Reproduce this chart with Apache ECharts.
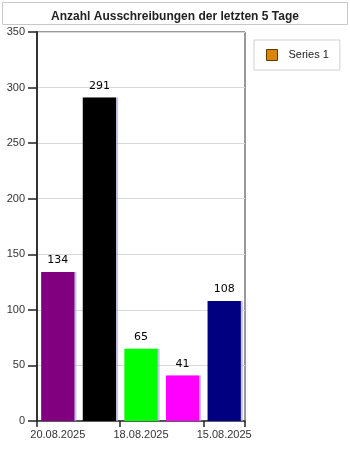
<!DOCTYPE html>
<html><head><meta charset="utf-8">
<script src="https://cdn.jsdelivr.net/npm/echarts@6/dist/echarts.min.js"></script>
<style>html,body{margin:0;padding:0;background:#fff}#c{width:350px;height:450px}</style>
</head><body><div id="c"></div>
<script>
var categories = ['20.08.2025','19.08.2025','18.08.2025','17.08.2025','15.08.2025'];
var values = [134, 291, 65, 41, 108];
var barColors = ['#800080','#000000','#00ff00','#ff00ff','#000080'];
var seriesName = 'Series 1';
var titleText = 'Anzahl Ausschreibungen der letzten 5 Tage';

var chart = echarts.init(document.getElementById('c'), null, {renderer:'canvas'});
chart.setOption({
  animation:false,
  backgroundColor:'#fff',
  graphic:[{type:'rect', shape:{x:2.5,y:2.5,width:345,height:22}, style:{fill:'#fff', stroke:'#c8c8c8', lineWidth:1}, z:-1}],
  title:{text:titleText, left:'center', top:6, textStyle:{fontFamily:'Liberation Sans', fontSize:12, fontWeight:'bold', color:'#222'}},
  legend:{data:[seriesName], left:254, top:40, orient:'vertical', borderColor:'#d0d0d0', borderWidth:1, padding:[9,11,9,12],
    itemWidth:11, itemHeight:11, icon:'rect', itemGap:8,
    itemStyle:{borderColor:'#5a3a00', borderWidth:1},
    textStyle:{fontFamily:'Liberation Sans', fontSize:11, color:'#222', padding:[0,0,0,6]}},
  grid:{left:37, right:105, top:32, bottom:29, show:true, borderColor:'#333', borderWidth:1},
  xAxis:{type:'category', data:categories,
    axisLine:{lineStyle:{color:'#333', width:1.5}},
    axisTick:{show:true, interval:1, length:6, lineStyle:{color:'#222', width:1.5}},
    axisLabel:{interval:1, margin:8, fontFamily:'Liberation Sans', fontSize:11, color:'#333'}},
  yAxis:{type:'value', min:0, max:350, interval:50,
    axisLine:{show:true, lineStyle:{color:'#333', width:2}},
    axisTick:{show:true, inside:false, length:9, lineStyle:{color:'#222', width:1.5}},
    splitLine:{show:true, lineStyle:{color:'#d8d8d8'}},
    axisLabel:{show:true, margin:12, fontFamily:'Liberation Sans', fontSize:11, color:'#333'}},
  series:[{name:seriesName, type:'bar', barWidth:'80%',
    itemStyle:{color:'#d9860a', shadowColor:'rgba(170,170,220,0.7)', shadowOffsetX:2, shadowBlur:0},
    label:{show:true, position:'top', distance:6, fontFamily:'DejaVu Sans', fontSize:11, color:'#000'},
    data: values.map(function(v,i){return {value:v, itemStyle:{color:barColors[i]}};})
  }]
});
</script></body></html>
